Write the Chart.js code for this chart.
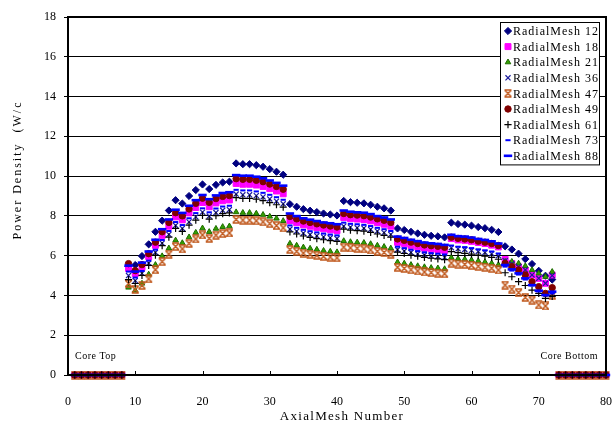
<!DOCTYPE html>
<html>
<head>
<meta charset="utf-8">
<title>Power Density</title>
<script src="https://cdn.jsdelivr.net/npm/chart.js@4.4.1/dist/chart.umd.min.js"></script>
<style>
  html, body { margin: 0; padding: 0; background: #fff; }
  #chart { display: block; }
</style>
</head>
<body>
<canvas id="chart" width="613" height="425"></canvas>
<script>
// Axial mesh positions
const meshes = [1,2,3,4,5,6,7,8,9,10,11,12,13,14,15,16,17,18,19,20,21,22,23,24,25,26,27,28,29,30,31,32,33,34,35,36,37,38,39,40,
  41,42,43,44,45,46,47,48,49,50,51,52,53,54,55,56,57,58,59,60,61,62,63,64,65,66,67,68,69,70,71,72,73,74,75,76,77,78,79,80];

const xTicks = [0, 10, 20, 30, 40, 50, 60, 70, 80];
const yTicks = [0, 2, 4, 6, 8, 10, 12, 14, 16, 18];

const seriesNames = ['RadialMesh 12', 'RadialMesh 18', 'RadialMesh 21', 'RadialMesh 36', 'RadialMesh 47',
  'RadialMesh 49', 'RadialMesh 61', 'RadialMesh 73', 'RadialMesh 88'];

const mesh12 = [0,0,0,0,0,0,0,0,
  5.45,5.53,5.98,6.57,7.2,7.76,8.27,8.79,
  8.62,9.0,9.3,9.58,9.35,9.56,9.68,9.72,
  10.64,10.6,10.6,10.55,10.47,10.35,10.22,10.07,
  8.59,8.46,8.34,8.26,8.19,8.12,8.07,8.02,
  8.75,8.69,8.66,8.63,8.56,8.46,8.38,8.27,
  7.37,7.29,7.2,7.12,7.05,7.0,6.97,6.92,
  7.66,7.59,7.56,7.51,7.44,7.38,7.3,7.19,
  6.47,6.31,6.1,5.83,5.58,5.24,4.99,4.8,
  0,0,0,0,0,0,0,0];

const mesh18 = [0,0,0,0,0,0,0,0,
  5.35,5.1,5.41,5.95,6.52,7.02,7.48,7.95,
  7.80,8.15,8.42,8.67,8.46,8.65,8.76,8.80,
  9.63,9.59,9.59,9.55,9.48,9.37,9.25,9.11,
  7.77,7.66,7.55,7.48,7.41,7.35,7.30,7.26,
  7.92,7.86,7.84,7.81,7.75,7.66,7.58,7.48,
  6.67,6.60,6.52,6.44,6.38,6.34,6.31,6.26,
  6.86,6.79,6.77,6.72,6.66,6.61,6.53,6.44,
  5.81,5.61,5.44,5.28,5.03,4.86,4.61,5.03,
  0,0,0,0,0,0,0,0];

const mesh21 = [0,0,0,0,0,0,0,0,
  4.4,4.25,4.60,5.06,5.54,5.98,6.37,6.77,
  6.64,6.93,7.16,7.38,7.20,7.36,7.45,7.48,
  8.19,8.16,8.16,8.12,8.06,7.97,7.87,7.75,
  6.61,6.51,6.42,6.36,6.31,6.25,6.21,6.18,
  6.74,6.69,6.67,6.65,6.59,6.51,6.45,6.37,
  5.67,5.61,5.54,5.48,5.43,5.39,5.37,5.33,
  5.90,5.84,5.82,5.78,5.73,5.68,5.62,5.54,
  5.70,5.70,5.61,5.48,5.28,5.11,4.94,5.19,
  0,0,0,0,0,0,0,0];

const mesh36 = [0,0,0,0,0,0,0,0,
  5.0,4.75,5.11,5.62,6.16,6.63,7.07,7.52,
  7.37,7.70,7.95,8.19,7.99,8.17,8.28,8.31,
  9.10,9.06,9.06,9.02,8.95,8.85,8.74,8.61,
  7.34,7.23,7.13,7.06,7.00,6.94,6.90,6.86,
  7.48,7.43,7.40,7.38,7.32,7.23,7.16,7.07,
  6.30,6.23,6.16,6.09,6.03,5.99,5.96,5.92,
  6.40,6.34,6.31,6.27,6.21,6.16,6.10,6.00,
  5.75,5.60,5.44,5.28,5.03,4.86,4.61,5.00,
  0,0,0,0,0,0,0,0];

const mesh47 = [0,0,0,0,0,0,0,0,
  4.6,4.3,4.5,4.83,5.29,5.70,6.08,6.46,
  6.34,6.62,6.84,7.04,6.87,7.03,7.11,7.14,
  7.82,7.79,7.79,7.75,7.70,7.61,7.51,7.40,
  6.31,6.22,6.13,6.07,6.02,5.97,5.93,5.89,
  6.43,6.39,6.37,6.34,6.29,6.22,6.16,6.08,
  5.42,5.36,5.29,5.23,5.18,5.15,5.12,5.09,
  5.63,5.58,5.56,5.52,5.47,5.42,5.37,5.28,
  4.52,4.32,4.14,3.90,3.77,3.52,3.47,4.00,
  0,0,0,0,0,0,0,0];

const mesh49 = [0,0,0,0,0,0,0,0,
  5.6,5.25,5.55,6.10,6.68,7.20,7.67,8.16,
  8.00,8.35,8.63,8.89,8.68,8.87,8.98,9.02,
  9.87,9.84,9.84,9.79,9.72,9.60,9.48,9.34,
  7.97,7.85,7.74,7.67,7.60,7.54,7.49,7.44,
  8.12,8.06,8.04,8.01,7.94,7.85,7.78,7.67,
  6.84,6.77,6.68,6.61,6.54,6.50,6.47,6.42,
  6.93,6.87,6.84,6.80,6.73,6.68,6.61,6.51,
  5.61,5.44,5.28,5.03,4.69,4.44,4.10,4.39,
  0,0,0,0,0,0,0,0];

const mesh61 = [0,0,0,0,0,0,0,0,
  4.8,4.6,5.01,5.51,6.03,6.50,6.93,7.37,
  7.22,7.54,7.79,8.03,7.84,8.01,8.11,8.15,
  8.92,8.88,8.88,8.84,8.77,8.67,8.56,8.44,
  7.20,7.09,6.99,6.92,6.86,6.80,6.76,6.72,
  7.33,7.28,7.26,7.23,7.17,7.09,7.02,6.93,
  6.18,6.11,6.03,5.97,5.91,5.87,5.84,5.80,
  6.20,6.15,6.12,6.08,6.03,5.98,5.91,5.82,
  5.14,4.94,4.69,4.50,4.27,4.10,3.85,3.95,
  0,0,0,0,0,0,0,0];

const mesh73 = [0,0,0,0,0,0,0,0,
  5.2,4.9,5.23,5.75,6.30,6.79,7.24,7.69,
  7.54,7.88,8.14,8.38,8.18,8.37,8.47,8.51,
  9.31,9.28,9.28,9.23,9.16,9.06,8.94,8.81,
  7.52,7.40,7.30,7.23,7.17,7.11,7.06,7.02,
  7.66,7.60,7.58,7.55,7.49,7.40,7.33,7.24,
  6.45,6.38,6.30,6.23,6.17,6.13,6.10,6.06,
  6.51,6.45,6.43,6.38,6.32,6.27,6.21,6.11,
  5.45,5.25,5.05,4.80,4.50,4.20,4.00,4.10,
  0,0,0,0,0,0,0,0];

const mesh88 = [0,0,0,0,0,0,0,0,
  5.5,5.2,5.65,6.21,6.80,7.33,7.82,8.31,
  8.15,8.51,8.79,9.05,8.84,9.03,9.15,9.19,
  10.05,10.02,10.02,9.97,9.89,9.78,9.66,9.52,
  8.12,7.99,7.88,7.81,7.74,7.67,7.63,7.58,
  8.27,8.21,8.18,8.16,8.09,7.99,7.92,7.82,
  6.96,6.89,6.80,6.73,6.66,6.62,6.59,6.54,
  7.05,6.98,6.96,6.91,6.84,6.79,6.72,6.61,
  5.53,5.31,5.11,4.86,4.52,4.24,4.02,4.19,
  0,0,0,0,0,0,0,0];

const seriesValues = [mesh12, mesh18, mesh21, mesh36, mesh47, mesh49, mesh61, mesh73, mesh88];

const FONT = '"Liberation Serif", "DejaVu Serif", serif';

// X with caps, like the brown marker in the original
function hourglassMarker(color) {
  const c = document.createElement('canvas');
  c.width = 9;
  c.height = 9;
  const g = c.getContext('2d');
  g.strokeStyle = color;
  g.lineWidth = 1.5;
  g.beginPath();
  g.moveTo(1.5, 1.5); g.lineTo(7.5, 7.5);
  g.moveTo(7.5, 1.5); g.lineTo(1.5, 7.5);
  g.moveTo(1, 1); g.lineTo(8, 1);
  g.moveTo(1, 8); g.lineTo(8, 8);
  g.stroke();
  return c;
}

const markers = [
  { style: 'rectRot', radius: 3.6, fill: '#000080', stroke: '#000080', width: 1 },
  { style: 'rect', radius: 4.2, fill: '#FF00FF', stroke: '#FF00FF', width: 1 },
  { style: 'triangle', radius: 3.2, fill: '#33A000', stroke: '#1E6B00', width: 1 },
  { style: 'crossRot', radius: 3.6, fill: '#1A1A9C', stroke: '#1A1A9C', width: 1.2 },
  { style: hourglassMarker('#C0581C'), radius: 4.5, fill: '#C0581C', stroke: '#C0581C', width: 1 },
  { style: 'circle', radius: 3.2, fill: '#800000', stroke: '#800000', width: 1 },
  { style: 'cross', radius: 3.6, fill: '#000000', stroke: '#000000', width: 1.2 },
  { style: 'line', radius: 2.6, fill: '#0000FF', stroke: '#0000FF', width: 2 },
  { style: 'line', radius: 4.2, fill: '#0000FF', stroke: '#0000FF', width: 2.6 }
];

function pointsOf(values) {
  return meshes.map((m, i) => ({ x: m, y: values[i] }));
}

function drawMarker(ctx, mk, x, y) {
  ctx.save();
  ctx.fillStyle = mk.fill;
  ctx.strokeStyle = mk.stroke;
  ctx.lineWidth = mk.width;
  if (Chart.helpers && Chart.helpers.drawPoint) {
    Chart.helpers.drawPoint(ctx, { pointStyle: mk.style, radius: mk.radius, rotation: 0, borderWidth: mk.width }, x, y);
  } else {
    ctx.fillRect(x - 3, y - 3, 6, 6);
  }
  ctx.restore();
}

// Frame, axis titles, notes and the legend box
const decorations = {
  id: 'decorations',
  afterDatasetsDraw(chart) {
    const ctx = chart.ctx;
    const a = chart.chartArea;
    const xs = chart.scales.x;

    ctx.save();
    // plot frame
    ctx.strokeStyle = '#000';
    ctx.lineWidth = 2;
    ctx.strokeRect(a.left, a.top, a.right - a.left, a.bottom - a.top);

    // small inward ticks on the x axis
    ctx.lineWidth = 1;
    xTicks.forEach(t => {
      const px = Math.round(xs.getPixelForValue(t)) + 0.5;
      ctx.beginPath();
      ctx.moveTo(px, a.bottom);
      ctx.lineTo(px, a.bottom - 4);
      ctx.stroke();
    });

    ctx.fillStyle = '#000';
    ctx.textBaseline = 'middle';

    // notes
    ctx.font = '10px ' + FONT;
    ctx.letterSpacing = '0.5px';
    ctx.textAlign = 'left';
    ctx.fillText('Core Top', 75, 356);
    ctx.textAlign = 'right';
    ctx.fillText('Core Bottom', 598, 356);

    // axis titles
    ctx.font = '13px ' + FONT;
    ctx.letterSpacing = '1.3px';
    ctx.textAlign = 'center';
    ctx.fillText('AxialMesh Number', 342, 417);

    ctx.save();
    ctx.translate(18, 170);
    ctx.rotate(-Math.PI / 2);
    ctx.font = '12px ' + FONT;
    ctx.letterSpacing = '2px';
    ctx.fillText('Power Density  (W/c', 0, 0);
    ctx.restore();

    // legend
    const lx = 500, ly = 22, lw = 99, rowH = 15.6;
    const lh = rowH * seriesNames.length + 2;
    ctx.fillStyle = '#fff';
    ctx.fillRect(lx, ly, lw, lh);
    ctx.strokeStyle = '#000';
    ctx.lineWidth = 1;
    ctx.strokeRect(lx + 0.5, ly + 0.5, lw, lh);

    ctx.font = '12px ' + FONT;
    ctx.letterSpacing = '1px';
    ctx.textAlign = 'left';
    seriesNames.forEach((name, i) => {
      const cy = ly + 9 + i * rowH;
      drawMarker(ctx, markers[i], 508, cy);
      ctx.fillStyle = '#000';
      ctx.fillText(name, 513, cy + 1);
    });
    ctx.restore();
  }
};

document.addEventListener('DOMContentLoaded', function() {
  const datasets = seriesNames.map((name, i) => ({
    label: name,
    data: pointsOf(seriesValues[i]),
    showLine: false,
    pointStyle: markers[i].style,
    pointRadius: markers[i].radius,
    pointHoverRadius: markers[i].radius,
    pointBackgroundColor: markers[i].fill,
    pointBorderColor: markers[i].stroke,
    pointBorderWidth: markers[i].width,
    clip: false,
    order: seriesNames.length - i
  }));

  new Chart(document.getElementById('chart'), {
    type: 'scatter',
    data: { datasets: datasets },
    options: {
      responsive: false,
      animation: false,
      devicePixelRatio: 1,
      layout: { padding: { top: 17, right: 7, left: 0, bottom: 0 } },
      plugins: {
        legend: { display: false },
        tooltip: { enabled: false }
      },
      scales: {
        x: {
          type: 'linear',
          min: xTicks[0],
          max: xTicks[xTicks.length - 1],
          afterBuildTicks: s => { s.ticks = xTicks.map(v => ({ value: v })); },
          afterFit: s => { s.height = 50; s.paddingLeft = 0; s.paddingRight = 0; },
          grid: { display: false },
          border: { display: false },
          ticks: { color: '#000', font: { family: FONT, size: 12 }, padding: 12, maxRotation: 0 }
        },
        y: {
          type: 'linear',
          min: yTicks[0],
          max: yTicks[yTicks.length - 1],
          afterBuildTicks: s => { s.ticks = yTicks.map(v => ({ value: v })); },
          afterFit: s => { s.width = 68; s.paddingTop = 0; s.paddingBottom = 0; },
          grid: { color: '#000', lineWidth: 1, tickLength: 4 },
          border: { display: false },
          ticks: { color: '#000', font: { family: FONT, size: 12 }, padding: 8 }
        }
      }
    },
    plugins: [decorations]
  });
});
</script>
</body>
</html>
